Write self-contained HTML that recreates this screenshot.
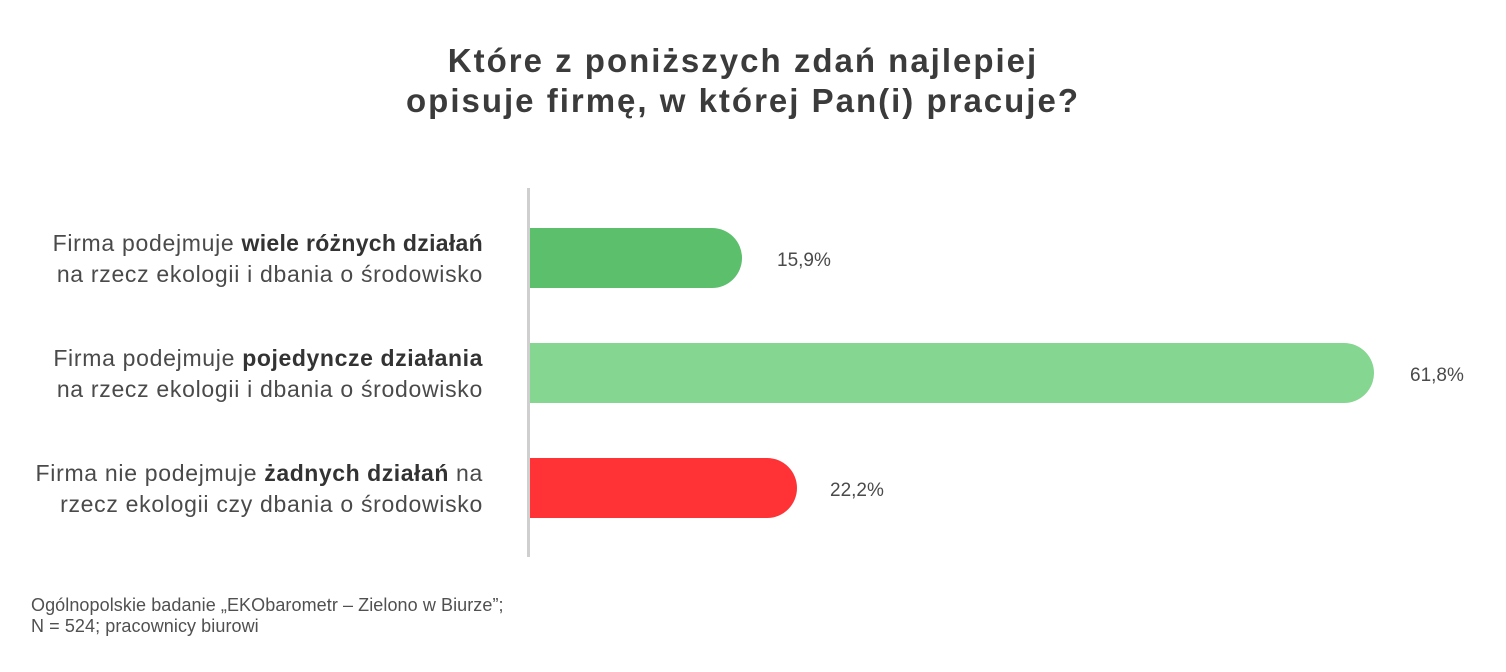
<!DOCTYPE html>
<html>
<head>
<meta charset="utf-8">
<style>
  html, body { margin:0; padding:0; background:#ffffff; }
  body { width:1506px; height:672px; position:relative; overflow:hidden; font-family:"Liberation Sans", Arial, sans-serif; }
  .title { position:absolute; left:0; width:1486px; text-align:center; font-weight:bold; font-size:33px; line-height:40px; letter-spacing:2px; color:#3b3b3b; white-space:nowrap; }
  .lab { position:absolute; right:1023px; text-align:right; font-size:23px; line-height:31px; letter-spacing:0.7px; color:#4a4a4a; white-space:nowrap; }
  .lab b { color:#333; letter-spacing:0.3px; }
  .bar { position:absolute; left:528px; height:60px; border-radius:0 30px 30px 0; }
  .val { position:absolute; font-size:19px; line-height:24px; color:#4a4a4a; white-space:nowrap; }
  .axis { position:absolute; left:527px; top:188px; width:2.5px; height:369px; background:#cfcfcf; }
  .foot { position:absolute; left:31px; font-size:18px; line-height:21px; letter-spacing:0.08px; color:#505050; white-space:nowrap; }
</style>
</head>
<body>
  <div class="title" style="top:41px;">Które z poniższych zdań najlepiej</div>
  <div class="title" style="top:81px;">opisuje firmę, w której Pan(i) pracuje?</div>

  <div class="lab" style="top:227.5px;">Firma podejmuje <b>wiele różnych działań</b><br>na rzecz ekologii i dbania o środowisko</div>
  <div class="lab" style="top:342.5px;">Firma podejmuje <b style="letter-spacing:0.6px;">pojedyncze działania</b><br>na rzecz ekologii i dbania o środowisko</div>
  <div class="lab" style="top:457.5px;">Firma nie podejmuje <b style="letter-spacing:0.55px;">żadnych działań</b> na<br>rzecz ekologii czy dbania o środowisko</div>

  <div class="bar" style="top:228px; width:214px; background:#5bbf6c;"></div>
  <div class="bar" style="top:343px; width:846px; background:#84d690;"></div>
  <div class="bar" style="top:458px; width:269px; background:#ff3336;"></div>

  <div class="axis"></div>

  <div class="val" style="left:777px; top:249px;">15,9%</div>
  <div class="val" style="left:1410px; top:364px;">61,8%</div>
  <div class="val" style="left:830px; top:479px;">22,2%</div>

  <div class="foot" style="top:595px;">Ogólnopolskie badanie „EKObarometr – Zielono w Biurze”;<br>N = 524; pracownicy biurowi</div>
</body>
</html>
